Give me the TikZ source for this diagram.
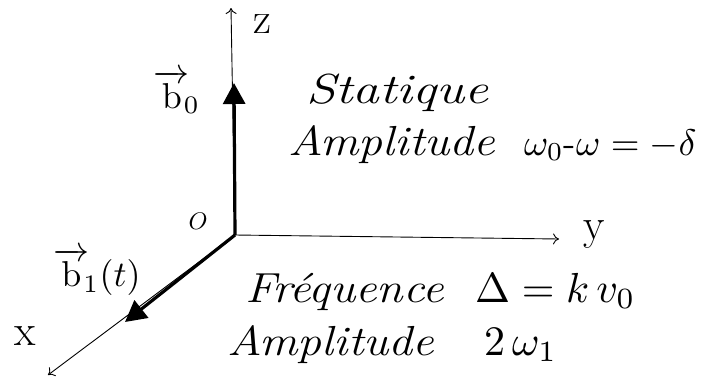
\documentclass[tikz,border=0pt]{standalone}
\usepackage{amsmath}
\usepackage{graphicx}
\usetikzlibrary{arrows.meta}
\newcommand{\bigmath}[2][4.2]{\scalebox{#1}{$#2$}}
\newcommand{\wide}[2][1.14]{\scalebox{#1}[1]{#2}}
\begin{document}
\begin{tikzpicture}[x=1pt,y=-1pt,
  axis/.style={line width=0.9pt, -{To[length=6pt,width=11pt]}},
  vecarrow/.style={line width=3.2pt, -{Triangle[length=21pt,width=22pt]}},
  lbl/.style={inner sep=0pt, font=\fontsize{42}{50}\selectfont\itshape},
  axlbl/.style={inner sep=0pt, font=\fontsize{44}{50}\selectfont},
]
\useasboundingbox (0,0) rectangle (724,389);
\coordinate (O) at (235,235);
\coordinate (Zt) at (231,8);
\coordinate (Yt) at (559,239);
\coordinate (Xt) at (48,375);
\coordinate (B0) at (234,83);
\coordinate (B1) at (125,322);
\draw[axis] (O) -- (Zt);
\draw[axis] (O) -- (Yt);
\draw[axis] (O) -- (Xt);
\draw[vecarrow] (O) -- (B0);
\draw[vecarrow] (O) -- (B1);
% axis labels
\node[axlbl] (zl) at (262,24) {z};
\node[axlbl] (yl) at (594,235) {y};
\node[axlbl] (xl) at (25,336) {x};
\node[inner sep=0pt] (ol) at (198,221) {\bigmath[2.4]{O}};
% vector labels
\node[inner sep=0pt] (b0l) at (177,92) {\bigmath[3.6]{\overrightarrow{\mathrm{b}}\!_0}};
\node[inner sep=0pt] (b1l) at (97,272) {\bigmath[3.6]{\overrightarrow{\mathrm{b}}\!_1(t)}};
% texts
\node[lbl, anchor=base west] (st) at (306,103) {\wide[1.27]{Statique}};
\node[lbl, anchor=base west] (am1) at (288,155) {\wide{Amplitude}};
\node[inner sep=0pt, anchor=base west] (eq1) at (524,155) {\bigmath[3.7]{\omega_0\text{-}\omega \mathrel{=} -\delta}};
\node[lbl, anchor=base west] (fr) at (245,302) {\wide{Fréquence}};
\node[inner sep=0pt, anchor=base west] (eq2) at (475,302) {\bigmath{\Delta = k\, v_0}};
\node[lbl, anchor=base west] (am2) at (227,355) {\wide{Amplitude}};
\node[inner sep=0pt, anchor=base west] (eq3) at (484,355) {\bigmath{2\,\omega_1}};
\end{tikzpicture}
\end{document}
